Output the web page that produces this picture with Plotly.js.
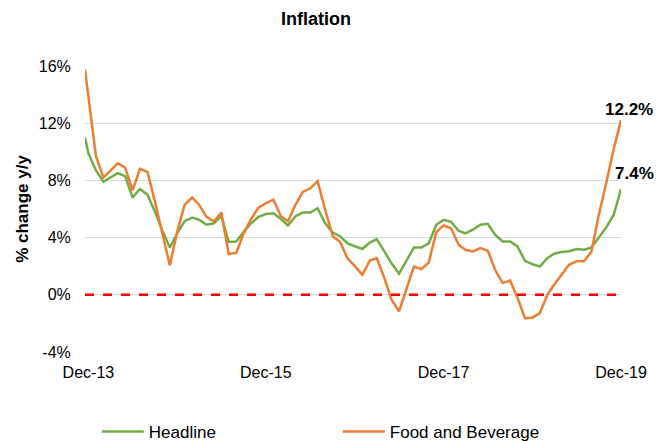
<!DOCTYPE html>
<html>
<head>
<meta charset="utf-8">
<script src="https://cdn.plot.ly/plotly-3.0.1.min.js"></script>
<style>html,body{margin:0;padding:0;background:#fff;}#chart{width:668px;height:441px;}</style>
</head>
<body>
<div id="chart"></div>
<script>
// First reading sits about half a month before Dec-13, then monthly Dec-13 .. Dec-19
var startDate = "2013-11-17";
var firstMonth = {year: 2013, month: 12};
var monthCount = 73;

var headline = [11.0,
  9.9, 8.7, 7.9, 8.2, 8.5, 8.3, 6.8, 7.4, 7.0, 5.8, 4.5, 3.3,
  4.3, 5.15, 5.4, 5.25, 4.9, 5.0, 5.5, 3.7, 3.73, 4.4, 5.0, 5.45,
  5.65, 5.7, 5.3, 4.85, 5.5, 5.75, 5.75, 6.05, 5.0, 4.35, 4.1, 3.6,
  3.4, 3.2, 3.65, 3.9, 3.05, 2.2, 1.47, 2.4, 3.3, 3.3, 3.6, 4.9,
  5.24, 5.1, 4.48, 4.3, 4.55, 4.9, 4.97, 4.2, 3.73, 3.73, 3.38, 2.38,
  2.14, 1.98, 2.56, 2.87, 3.0, 3.05, 3.2, 3.15, 3.3, 4.0, 4.7, 5.6,
  7.4];

var foodBev = [15.75,
  13.9, 9.7, 8.2, 8.7, 9.2, 8.9, 7.3, 8.8, 8.6, 6.5, 4.4, 2.05,
  4.4, 6.3, 6.8, 6.3, 5.45, 5.13, 5.75, 2.85, 2.93, 4.3, 5.3, 6.1,
  6.4, 6.65, 5.5, 5.15, 6.3, 7.2, 7.45, 7.95, 5.95, 4.1, 3.7, 2.55,
  2.0, 1.4, 2.4, 2.56, 1.2, -0.35, -1.15, 0.4, 1.98, 1.8, 2.26, 4.38,
  4.85, 4.66, 3.5, 3.15, 3.03, 3.26, 3.08, 1.75, 0.82, 1.0, -0.2, -1.63,
  -1.6, -1.28, 0.0, 0.7, 1.4, 2.1, 2.35, 2.35, 3.0, 5.6, 7.8, 10.2,
  12.2];

var tickVals = ["2013-12-01", "2015-12-01", "2017-12-01", "2019-12-01"];
var tickText = ["Dec-13", "Dec-15", "Dec-17", "Dec-19"];
var yTicks = [-4, 0, 4, 8, 12, 16];
var yTickText = ["-4%", "0%", "4%", "8%", "12%", "16%"];

function pad(n){return (n<10?"0":"")+n;}
var dates = [startDate];
for (var i = 0; i < monthCount; i++) {
  var mo = firstMonth.month - 1 + i;
  var y = firstMonth.year + Math.floor(mo / 12);
  var m = (mo % 12) + 1;
  dates.push(y + "-" + pad(m) + "-01");
}
var lastDate = dates[dates.length - 1];

var font = "Arial, 'Liberation Sans', sans-serif";

var traces = [
  {x: dates, y: headline, type: "scatter", mode: "lines", name: "Headline",
   line: {color: "#70AD47", width: 2.5}},
  {x: dates, y: foodBev, type: "scatter", mode: "lines", name: "Food and Beverage",
   line: {color: "#ED7D31", width: 2.5}}
];

var layout = {
  width: 668, height: 441,
  margin: {l: 85, r: 47, t: 66, b: 89},
  paper_bgcolor: "#fff", plot_bgcolor: "#fff",
  font: {family: font, size: 16, color: "#000"},
  title: {text: "<b>Inflation</b>", font: {family: font, size: 18, color: "#000"},
          x: 0.473, xref: "container", xanchor: "center", y: 0.958, yref: "container", yanchor: "middle"},
  xaxis: {type: "date", range: [startDate, lastDate], tickvals: tickVals, ticktext: tickText,
          showgrid: false, zeroline: false, showline: false, automargin: false,
          ticks: "outside", ticklen: 6, tickcolor: "rgba(0,0,0,0)",
          tickfont: {family: font, size: 16, color: "#000"}},
  yaxis: {range: [-4, 16], tickvals: yTicks, ticktext: yTickText, automargin: false,
          showgrid: true, gridcolor: "#d9d9d9", gridwidth: 1, zeroline: false, showline: false,
          ticks: "outside", ticklen: 10, tickcolor: "rgba(0,0,0,0)",
          tickfont: {family: font, size: 16, color: "#000"},
          title: {text: "<b>% change y/y</b>", font: {family: font, size: 17, color: "#000"}, standoff: 5}},
  shapes: [{type: "line", xref: "x", yref: "y", x0: startDate, x1: lastDate, y0: 0, y1: 0,
            line: {color: "#FF0000", width: 2.5, dash: "dash"}}],
  annotations: [
    {x: lastDate, y: foodBev[foodBev.length-1], xref: "x", yref: "y",
     text: "<b>" + foodBev[foodBev.length-1].toFixed(1) + "%</b>", showarrow: false,
     xanchor: "center", yanchor: "bottom", xshift: 8, yshift: -1,
     font: {family: font, size: 17, color: "#000"}},
    {x: lastDate, y: headline[headline.length-1], xref: "x", yref: "y",
     text: "<b>" + headline[headline.length-1].toFixed(1) + "%</b>", showarrow: false,
     xanchor: "center", yanchor: "bottom", xshift: 13, yshift: 4,
     font: {family: font, size: 17, color: "#000"}}
  ],
  showlegend: true,
  legend: {orientation: "h", x: 0.022, xanchor: "left", xref: "paper",
           y: 0.0204, yanchor: "middle", yref: "container",
           itemwidth: 42, entrywidth: 184, entrywidthmode: "pixels",
           font: {family: font, size: 17, color: "#000"}, bgcolor: "rgba(0,0,0,0)"}
};

Plotly.newPlot("chart", traces, layout, {displayModeBar: false, staticPlot: true});
</script>
</body>
</html>
